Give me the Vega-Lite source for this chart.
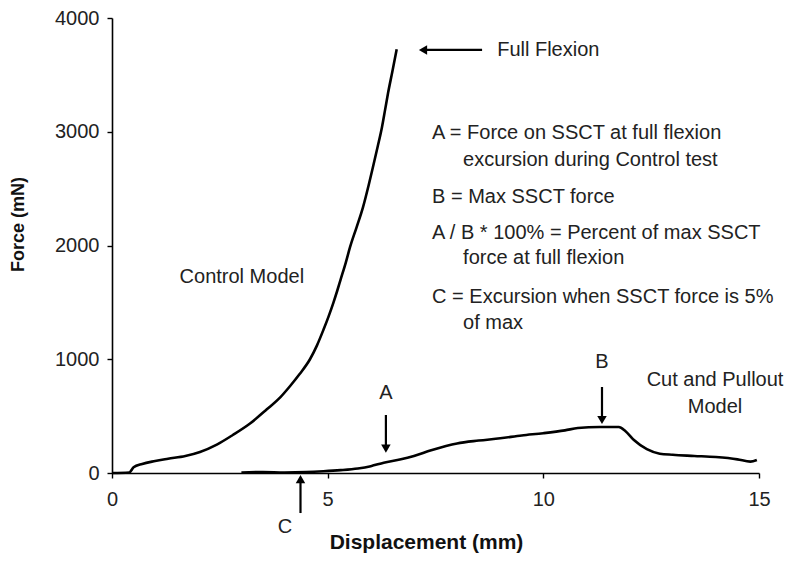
{
  "$schema": "https://vega.github.io/schema/vega-lite/v6.json",
  "autosize": "none",
  "width": 647,
  "height": 455,
  "padding": {"left": 112, "top": 18, "right": 41, "bottom": 98},
  "background": "white",
  "config": {"font": "Liberation Sans", "view": {"stroke": null}},
  "datasets": {
    "curves": [
      {"model": "Control", "x": 0, "y": 0},
      {"model": "Control", "x": 0.4, "y": 5},
      {"model": "Control", "x": 0.5, "y": 50},
      {"model": "Control", "x": 0.7, "y": 80},
      {"model": "Control", "x": 1.0, "y": 105},
      {"model": "Control", "x": 1.3, "y": 125},
      {"model": "Control", "x": 1.7, "y": 150},
      {"model": "Control", "x": 2.04, "y": 185},
      {"model": "Control", "x": 2.43, "y": 250},
      {"model": "Control", "x": 2.8, "y": 334},
      {"model": "Control", "x": 3.2, "y": 435},
      {"model": "Control", "x": 3.59, "y": 560},
      {"model": "Control", "x": 3.9, "y": 665},
      {"model": "Control", "x": 4.13, "y": 765},
      {"model": "Control", "x": 4.35, "y": 870},
      {"model": "Control", "x": 4.59, "y": 1000},
      {"model": "Control", "x": 4.75, "y": 1120},
      {"model": "Control", "x": 4.9, "y": 1257},
      {"model": "Control", "x": 5.02, "y": 1375},
      {"model": "Control", "x": 5.13, "y": 1494},
      {"model": "Control", "x": 5.22, "y": 1600},
      {"model": "Control", "x": 5.3, "y": 1700},
      {"model": "Control", "x": 5.42, "y": 1850},
      {"model": "Control", "x": 5.52, "y": 1987},
      {"model": "Control", "x": 5.67, "y": 2160},
      {"model": "Control", "x": 5.82, "y": 2338},
      {"model": "Control", "x": 5.95, "y": 2530},
      {"model": "Control", "x": 6.05, "y": 2690},
      {"model": "Control", "x": 6.16, "y": 2870},
      {"model": "Control", "x": 6.26, "y": 3042},
      {"model": "Control", "x": 6.33, "y": 3190},
      {"model": "Control", "x": 6.4, "y": 3340},
      {"model": "Control", "x": 6.5, "y": 3530},
      {"model": "Control", "x": 6.6, "y": 3725},
      {"model": "Cut", "x": 3.0, "y": 5},
      {"model": "Cut", "x": 3.5, "y": 8},
      {"model": "Cut", "x": 4.0, "y": 5},
      {"model": "Cut", "x": 4.5, "y": 8},
      {"model": "Cut", "x": 4.9, "y": 15},
      {"model": "Cut", "x": 5.3, "y": 25},
      {"model": "Cut", "x": 5.7, "y": 40},
      {"model": "Cut", "x": 6.0, "y": 60},
      {"model": "Cut", "x": 6.3, "y": 90},
      {"model": "Cut", "x": 6.7, "y": 120},
      {"model": "Cut", "x": 7.0, "y": 150},
      {"model": "Cut", "x": 7.4, "y": 200},
      {"model": "Cut", "x": 8.0, "y": 260},
      {"model": "Cut", "x": 8.5, "y": 285},
      {"model": "Cut", "x": 9.0, "y": 305},
      {"model": "Cut", "x": 9.5, "y": 330},
      {"model": "Cut", "x": 10.0, "y": 350},
      {"model": "Cut", "x": 10.5, "y": 375},
      {"model": "Cut", "x": 10.8, "y": 395},
      {"model": "Cut", "x": 11.3, "y": 405},
      {"model": "Cut", "x": 11.75, "y": 405},
      {"model": "Cut", "x": 11.9, "y": 370},
      {"model": "Cut", "x": 12.1, "y": 290},
      {"model": "Cut", "x": 12.4, "y": 210},
      {"model": "Cut", "x": 12.7, "y": 170},
      {"model": "Cut", "x": 13.0, "y": 160},
      {"model": "Cut", "x": 13.5, "y": 150},
      {"model": "Cut", "x": 14.0, "y": 140},
      {"model": "Cut", "x": 14.5, "y": 120},
      {"model": "Cut", "x": 14.8, "y": 100},
      {"model": "Cut", "x": 14.95, "y": 115}
    ],
    "arrows": [
      {"name": "A", "x": 6.35, "y": 510, "x2": 6.35, "y2": 215, "head": "triangle-down"},
      {"name": "B", "x": 11.36, "y": 756, "x2": 11.36, "y2": 466, "head": "triangle-down"},
      {"name": "C", "x": 4.37, "y": -352, "x2": 4.37, "y2": -53, "head": "triangle-up"},
      {"name": "Full", "x": 8.58, "y": 3719, "x2": 7.21, "y2": 3719, "head": "triangle-left"}
    ],
    "notesLeft": [
      {"x": 8.93, "y": 3719, "text": "Full Flexion"},
      {"x": 7.42, "y": 2989, "text": "A = Force on SSCT at full flexion"},
      {"x": 8.14, "y": 2752, "text": "excursion during Control test"},
      {"x": 7.42, "y": 2426, "text": "B = Max SSCT force"},
      {"x": 7.42, "y": 2110, "text": "A / B * 100% = Percent of max SSCT"},
      {"x": 8.14, "y": 1890, "text": "force at full flexion"},
      {"x": 7.42, "y": 1547, "text": "C = Excursion when SSCT force is 5%"},
      {"x": 8.14, "y": 1319, "text": "of max"}
    ],
    "notesCenter": [
      {"x": 3.01, "y": 1723, "text": "Control Model"},
      {"x": 13.98, "y": 818, "text": "Cut and Pullout"},
      {"x": 13.98, "y": 580, "text": "Model"},
      {"x": 6.35, "y": 703, "text": "A"},
      {"x": 11.36, "y": 976, "text": "B"},
      {"x": 4.01, "y": -475, "text": "C"}
    ]
  },
  "layer": [
    {
      "data": {"name": "curves"},
      "mark": {"type": "line", "color": "black", "strokeWidth": 2.6, "clip": false, "interpolate": "monotone"},
      "encoding": {
        "x": {
          "field": "x", "type": "quantitative",
          "scale": {"domain": [0, 15], "nice": false, "zero": false},
          "axis": {
            "title": "Displacement (mm)", "values": [0, 5, 10, 15], "grid": false,
            "domainColor": "black", "domainWidth": 1.6, "tickColor": "black", "tickWidth": 1.4, "tickSize": 5,
            "labelFontSize": 20, "labelColor": "#222", "labelPadding": 11, "labelFlush": false,
            "titleFontSize": 21, "titleFontWeight": "bold", "titleColor": "#111", "titlePadding": 22,
            "titleX": 314, "titleAlign": "center"
          }
        },
        "y": {
          "field": "y", "type": "quantitative",
          "scale": {"domain": [0, 4000], "nice": false},
          "axis": {
            "title": "Force (mN)", "values": [0, 1000, 2000, 3000, 4000], "format": "d", "grid": false,
            "domainColor": "black", "domainWidth": 1.6, "tickColor": "black", "tickWidth": 1.4, "tickSize": 5,
            "labelFontSize": 20, "labelColor": "#222", "labelPadding": 8, "labelFlush": false,
            "titleFontSize": 18, "titleFontWeight": "bold", "titleColor": "#111",
            "titleX": -94, "titleY": 206, "titleAlign": "center", "titleBaseline": "middle", "titleAngle": 270
          }
        },
        "detail": {"field": "model", "type": "nominal"},
        "order": {"field": "x", "type": "quantitative"}
      }
    },
    {
      "data": {"name": "arrows"},
      "mark": {"type": "rule", "color": "black", "strokeWidth": 2.2, "clip": false},
      "encoding": {
        "x": {"field": "x", "type": "quantitative"},
        "y": {"field": "y", "type": "quantitative"},
        "x2": {"field": "x2"},
        "y2": {"field": "y2"}
      }
    },
    {
      "data": {"name": "arrows"},
      "mark": {"type": "point", "filled": true, "color": "black", "opacity": 1, "size": 90, "clip": false},
      "encoding": {
        "x": {"field": "x2", "type": "quantitative"},
        "y": {"field": "y2", "type": "quantitative"},
        "shape": {"field": "head", "type": "nominal", "scale": null, "legend": null}
      }
    },
    {
      "data": {"name": "notesLeft"},
      "mark": {"type": "text", "align": "left", "baseline": "middle", "fontSize": 20, "color": "#222", "clip": false},
      "encoding": {
        "x": {"field": "x", "type": "quantitative"},
        "y": {"field": "y", "type": "quantitative"},
        "text": {"field": "text"}
      }
    },
    {
      "data": {"name": "notesCenter"},
      "mark": {"type": "text", "align": "center", "baseline": "middle", "fontSize": 20, "color": "#222", "clip": false},
      "encoding": {
        "x": {"field": "x", "type": "quantitative"},
        "y": {"field": "y", "type": "quantitative"},
        "text": {"field": "text"}
      }
    }
  ]
}
